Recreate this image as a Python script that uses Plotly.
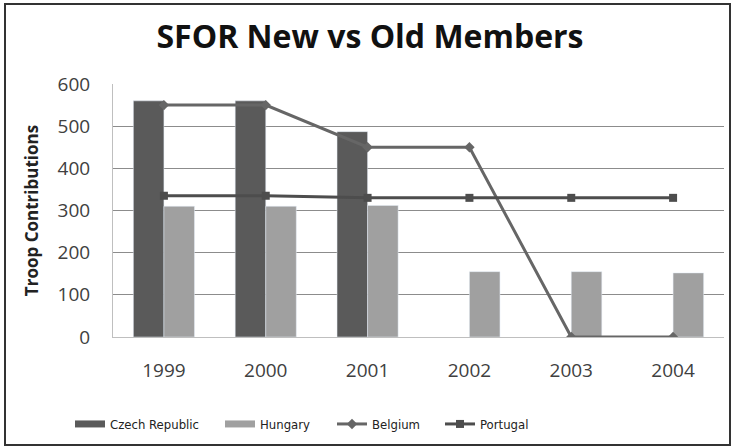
import plotly.graph_objects as go

years = ["1999", "2000", "2001", "2002", "2003", "2004"]
czech = [560, 560, 487, None, None, None]
hungary = [310, 310, 312, 155, 155, 152]
belgium = [550, 550, 450, 450, 0, 0]
portugal = [335, 335, 330, 330, 330, 330]

W, H = 731, 447
ML, MR, MT, MB = 113, 7, 84, 110
PW, PH = W - ML - MR, H - MT - MB

def px_x(x):
    return (x - ML) / PW

def px_y(y):
    return (H - MB - y) / PH

CZ_COL, HU_COL, BE_COL, PT_COL = "#5a5a5a", "#a0a0a0", "#666666", "#4d4d4d"

fig = go.Figure()
fig.add_trace(go.Bar(x=years, y=czech, name="Czech Republic", marker_color=CZ_COL,
                     showlegend=False))
fig.add_trace(go.Bar(x=years, y=hungary, name="Hungary", marker_color=HU_COL,
                     showlegend=False))
# legend swatches for the bars (wide flat rectangles like the original)
fig.add_trace(go.Scatter(x=[None], y=[None], name="Czech Republic", mode="lines",
                         line=dict(color=CZ_COL, width=7), legend="legend"))
fig.add_trace(go.Scatter(x=[None], y=[None], name="Hungary", mode="lines",
                         line=dict(color=HU_COL, width=7), legend="legend2"))
fig.add_trace(go.Scatter(x=years, y=belgium, name="Belgium", mode="lines+markers",
                         line=dict(color=BE_COL, width=3),
                         marker=dict(symbol="diamond", size=8, color=BE_COL),
                         legend="legend3"))
fig.add_trace(go.Scatter(x=years, y=portugal, name="Portugal", mode="lines+markers",
                         line=dict(color=PT_COL, width=3),
                         marker=dict(symbol="square", size=8, color=PT_COL),
                         legend="legend4"))

def leg(x_text):
    return dict(orientation="h", x=px_x(x_text - 40), xanchor="left", y=px_y(424),
                yanchor="middle", bgcolor="rgba(0,0,0,0)",
                font=dict(family="DejaVu Sans Condensed", size=13, color="#222222"),
                itemwidth=30)

fig.update_layout(
    width=W, height=H,
    margin=dict(l=ML, r=MR, t=MT, b=MB, autoexpand=False),
    paper_bgcolor="white", plot_bgcolor="white",
    barmode="group", bargap=0.4, bargroupgap=0,
    font=dict(family="Open Sans", color="#404040"),
    title=dict(text="<b>SFOR New vs Old Members</b>", x=370 / W, xanchor="center",
               y=1 - 37 / H, yanchor="middle", xref="container", yref="container",
               font=dict(family="Open Sans", size=32, color="#111111")),
    showlegend=True,
    legend=leg(110), legend2=leg(260), legend3=leg(372), legend4=leg(480),
    xaxis=dict(showgrid=False, showline=True, linecolor="#bfbfbf", linewidth=1,
               tickfont=dict(size=19, color="#404040"), ticks="", ticklabelstandoff=16,
               automargin=False),
    yaxis=dict(range=[0, 600], dtick=100, showgrid=True, gridcolor="#8c8c8c", gridwidth=1,
               showline=True, linecolor="#bfbfbf", linewidth=1, zeroline=False,
               tickfont=dict(size=19, color="#404040"), ticks="", ticklabelstandoff=18,
               title=dict(text="<b>Troop Contributions</b>", standoff=14,
                          font=dict(size=17, color="#222222")),
               automargin=False),
    shapes=[dict(type="rect", xref="paper", yref="paper",
                 x0=px_x(5), x1=px_x(730), y0=px_y(445), y1=px_y(4),
                 line=dict(color="#333333", width=2), fillcolor="rgba(0,0,0,0)", layer="above")],
)

fig.write_html("out.html", config={"displayModeBar": False},
               post_script="document.body.style.margin='0';")
